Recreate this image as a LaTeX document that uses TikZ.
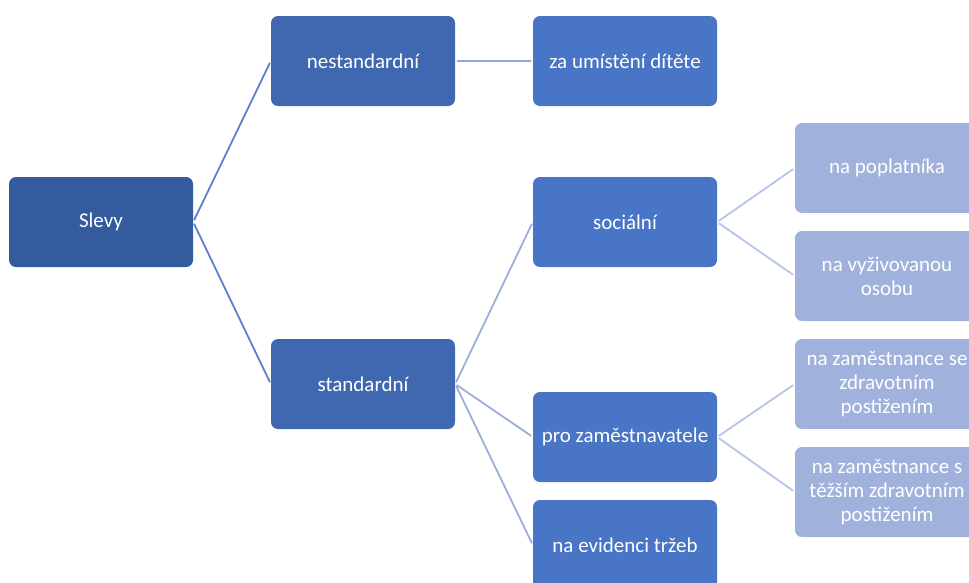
\documentclass[tikz,border=0pt]{standalone}
\usepackage{fontspec}
\setmainfont{Carlito}
\definecolor{cRoot}{RGB}{53,91,159}
\definecolor{cLone}{RGB}{63,104,176}
\definecolor{cLtwo}{RGB}{72,117,197}
\definecolor{cLthree}{RGB}{160,177,219}
\definecolor{eRoot}{RGB}{92,128,205}
\definecolor{eOne}{RGB}{143,167,220}
\definecolor{eTwo}{RGB}{155,174,220}
\definecolor{eThree}{RGB}{182,196,232}
\tikzset{
  box/.style={rounded corners=7pt, minimum width=184pt, minimum height=90pt,
    inner sep=0pt, text=white, align=center,
    font=\fontsize{21}{24}\selectfont},
  root/.style={box, fill=cRoot},
  lone/.style={box, fill=cLone},
  ltwo/.style={box, fill=cLtwo},
  lthree/.style={box, fill=cLthree},
  link/.style={line width=1.8pt, shorten <=2pt, shorten >=2pt},
}
\begin{document}
\begin{tikzpicture}[x=1pt,y=-1pt]
\useasboundingbox (0,0) rectangle (969,582);
\clip (0,0) rectangle (969,582);
\node[root] (slevy) at (101,222) {Slevy};
\node[lone] (nest) at (363,61) {nestandardní};
\node[lone] (std) at (363,384) {standardní};
\node[ltwo] (dite) at (625,61) {za umístění dítěte};
\node[ltwo] (soc) at (625,222) {sociální};
\node[ltwo] (zam) at (625,437) {pro zaměstnavatele};
\node[ltwo] (eet) at (625,545) {na evidenci tržeb};
\node[lthree] (popl) at (887,168) {na poplatníka};
\node[lthree] (vyz) at (887,276) {na vyživovanou\\osobu};
\node[lthree] (zp) at (887,384) {na zaměstnance se\\zdravotním\\postižením};
\node[lthree] (tzp) at (887,492) {na zaměstnance s\\těžším zdravotním\\postižením};
\draw[link, eRoot] (slevy.east) -- (nest.west);
\draw[link, eRoot] (slevy.east) -- (std.west);
\draw[link, eOne] (nest.east) -- (dite.west);
\draw[link, eTwo] (std.east) -- (soc.west);
\draw[link, eTwo] (std.east) -- (zam.west);
\draw[link, eTwo] (std.east) -- (eet.west);
\draw[link, eThree] (soc.east) -- (popl.west);
\draw[link, eThree] (soc.east) -- (vyz.west);
\draw[link, eThree] (zam.east) -- (zp.west);
\draw[link, eThree] (zam.east) -- (tzp.west);
\end{tikzpicture}
\end{document}
